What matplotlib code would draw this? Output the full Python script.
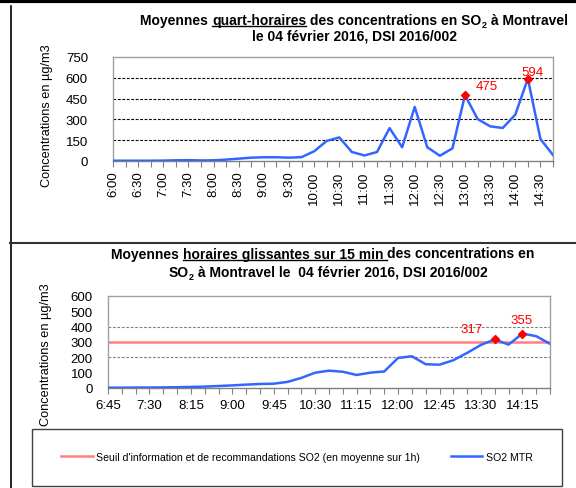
import matplotlib
matplotlib.use("Agg")
import matplotlib.pyplot as plt
from matplotlib.lines import Line2D
from matplotlib.patches import Rectangle

plt.rcParams['font.family'] = ['Liberation Sans', 'DejaVu Sans']

# Données : moyennes quart-horaires
heures_qh = ["6:00", "6:15", "6:30", "6:45", "7:00", "7:15", "7:30", "7:45",
             "8:00", "8:15", "8:30", "8:45", "9:00", "9:15", "9:30", "9:45",
             "10:00", "10:15", "10:30", "10:45", "11:00", "11:15", "11:30", "11:45",
             "12:00", "12:15", "12:30", "12:45", "13:00", "13:15", "13:30", "13:45",
             "14:00", "14:15", "14:30", "14:45"]
so2_qh = [2, 2, 2, 2, 3, 5, 6, 4, 5, 10, 17, 24, 27, 27, 24, 28,
          70, 145, 170, 65, 40, 65, 237, 99, 390, 99, 38, 91, 475, 303, 250, 238,
          334, 594, 159, 43]
labels_qh = [28, 33]  # indices des valeurs annotées

# Données : moyennes horaires glissantes
heures_gl = ["6:45", "7:00", "7:15", "7:30", "7:45", "8:00", "8:15", "8:30",
             "8:45", "9:00", "9:15", "9:30", "9:45", "10:00", "10:15", "10:30",
             "10:45", "11:00", "11:15", "11:30", "11:45", "12:00", "12:15", "12:30",
             "12:45", "13:00", "13:15", "13:30", "13:45", "14:00", "14:15", "14:30",
             "14:45"]
so2_gl = [2, 2, 3, 3, 4, 5, 7, 9, 13, 17, 22, 26, 28, 40, 66, 100,
          113, 106, 85, 100, 108, 196, 207, 155, 152, 181, 229, 281, 317, 283, 355, 338,
          288]
labels_gl = [28, 30]
seuil = 300

W, H = 576, 489
BLEU = '#3366ff'
ROUGE = '#ff8080'
FS_TICK = 9.5


def fx(x):
    return x / W


def fy(y):
    return 1 - y / H


def titre(fig, morceaux, cx, base_y, size=10):
    # morceaux : (texte, souligné, indice)
    r = fig.canvas.get_renderer()
    objs = []
    total = 0
    for txt, soul, sub in morceaux:
        fs = size * 0.65 if sub else size
        t = fig.text(0, 0, txt, fontsize=fs, fontweight='bold', ha='left', va='baseline')
        w = t.get_window_extent(r).width
        objs.append((t, w, soul, sub))
        total += w
    x = cx - total / 2
    for t, w, soul, sub in objs:
        yb = base_y + (3 if sub else 0)
        t.set_position((fx(x), fy(yb)))
        if soul:
            fig.add_artist(Line2D([fx(x), fx(x + w)], [fy(yb + 2), fy(yb + 2)],
                                  color='black', lw=1, transform=fig.transFigure))
        x += w


def style_axes(ax, n):
    for s in ax.spines.values():
        s.set_color('#a0a0a0')
        s.set_linewidth(1)
    ax.spines['bottom'].set_color('#808080')
    ax.set_xlim(0, n - 1)
    ax.set_xticks(range(n))
    ax.tick_params(axis='x', length=4, color='#808080', labelsize=FS_TICK)
    ax.tick_params(axis='y', length=0, labelsize=FS_TICK)


fig = plt.figure(figsize=(5.76, 4.89), dpi=100)

# Graphique 1 : quart-horaires
ax1 = fig.add_axes([fx(113), fy(162), (553 - 113) / W, (162 - 58) / H])
x1 = list(range(len(heures_qh)))
style_axes(ax1, len(heures_qh))
for v in [150, 300, 450, 600]:
    ax1.axhline(v, color='black', lw=0.8, ls=(0, (2.5, 1.5)), zorder=1)
ax1.plot(x1, so2_qh, color=BLEU, lw=1.8, zorder=3)
ax1.set_ylim(0, 750)
ax1.set_yticks([0, 150, 300, 450, 600, 750])
ax1.tick_params(axis='y', pad=18)
ax1.set_xticklabels([h if i % 2 == 0 else "" for i, h in enumerate(heures_qh)],
                    rotation=90)
ax1.tick_params(axis='x', pad=3)
for i, (dx, dy) in zip(labels_qh, [(15.8, 6.5), (3.2, 4.7)]):
    ax1.plot(x1[i], so2_qh[i], 'D', color='red', ms=4.5, zorder=4)
    ax1.annotate(str(so2_qh[i]), (x1[i], so2_qh[i]), xytext=(dx, dy),
                 textcoords='offset points', ha='center', va='center',
                 color='red', fontsize=9.5)

# Graphique 2 : horaires glissantes
ax2 = fig.add_axes([fx(108), fy(389), (550 - 108) / W, (389 - 297) / H])
x2 = list(range(len(heures_gl)))
style_axes(ax2, len(heures_gl))
for v in [200, 400]:
    ax2.axhline(v, color='#808080', lw=0.8, ls=(0, (2.5, 1.5)), zorder=1)
l_seuil = ax2.axhline(seuil, color=ROUGE, lw=1.8, zorder=2)
l_so2, = ax2.plot(x2, so2_gl, color=BLEU, lw=1.8, zorder=3)
ax2.set_ylim(0, 600)
ax2.set_yticks(range(0, 601, 100))
ax2.tick_params(axis='y', pad=11)
ax2.set_xticklabels([h if i % 3 == 0 else "" for i, h in enumerate(heures_gl)])
ax2.tick_params(axis='x', pad=4)
for i, (dx, dy) in zip(labels_gl, [(-16.6, 7.6), (-0.4, 9.7)]):
    ax2.plot(x2[i], so2_gl[i], 'D', color='red', ms=4.5, zorder=4)
    ax2.annotate(str(so2_gl[i]), (x2[i], so2_gl[i]), xytext=(dx, dy),
                 textcoords='offset points', ha='center', va='center',
                 color='red', fontsize=9.5)

# Libellés des axes Y
fig.text(fx(47), fy(116), "Concentrations en µg/m3", rotation=90,
         ha='center', va='center', fontsize=9.2)
fig.text(fx(46), fy(355), "Concentrations en µg/m3", rotation=90,
         ha='center', va='center', fontsize=9.2)

# Titres
titre(fig, [("Moyennes ", False, False), ("quart-horaires", True, False),
            (" des concentrations en SO", False, False), ("2", False, True),
            (" à Montravel", False, False)], 354, 25)
titre(fig, [("le 04 février 2016, DSI 2016/002", False, False)], 354, 40.7)
titre(fig, [("Moyennes ", False, False), ("horaires glissantes sur 15 min ", True, False),
            ("des concentrations en", False, False)], 323, 258.5)
titre(fig, [("SO", False, False), ("2", False, True),
            (" à Montravel le  04 février 2016, DSI 2016/002", False, False)], 328, 276.7)

# Légende
fig.add_artist(Rectangle((fx(32), fy(487)), (562 - 32) / W, (487 - 430) / H,
                         transform=fig.transFigure, fill=False,
                         edgecolor='#404040', lw=1))
fig.legend(handles=[l_seuil, l_so2],
           labels=["Seuil d'information et de recommandations SO2 (en moyenne sur 1h)",
                   "SO2 MTR"],
           loc='center', bbox_to_anchor=(fx(297), fy(458)), ncol=2, frameon=False,
           fontsize=7.6, handlelength=3.0, handletextpad=0.3, columnspacing=2.9)

# Cadres
fig.add_artist(Line2D([0, 1], [fy(2), fy(2)], color='black', lw=3,
                      transform=fig.transFigure))
fig.add_artist(Line2D([fx(10.5), fx(10.5)], [fy(7), 0], color='black', lw=1.2,
                      transform=fig.transFigure))
fig.add_artist(Line2D([fx(10), 1], [fy(243.5), fy(243.5)], color='#333333', lw=1.5,
                      transform=fig.transFigure))

fig.savefig("out.png", dpi=100)
